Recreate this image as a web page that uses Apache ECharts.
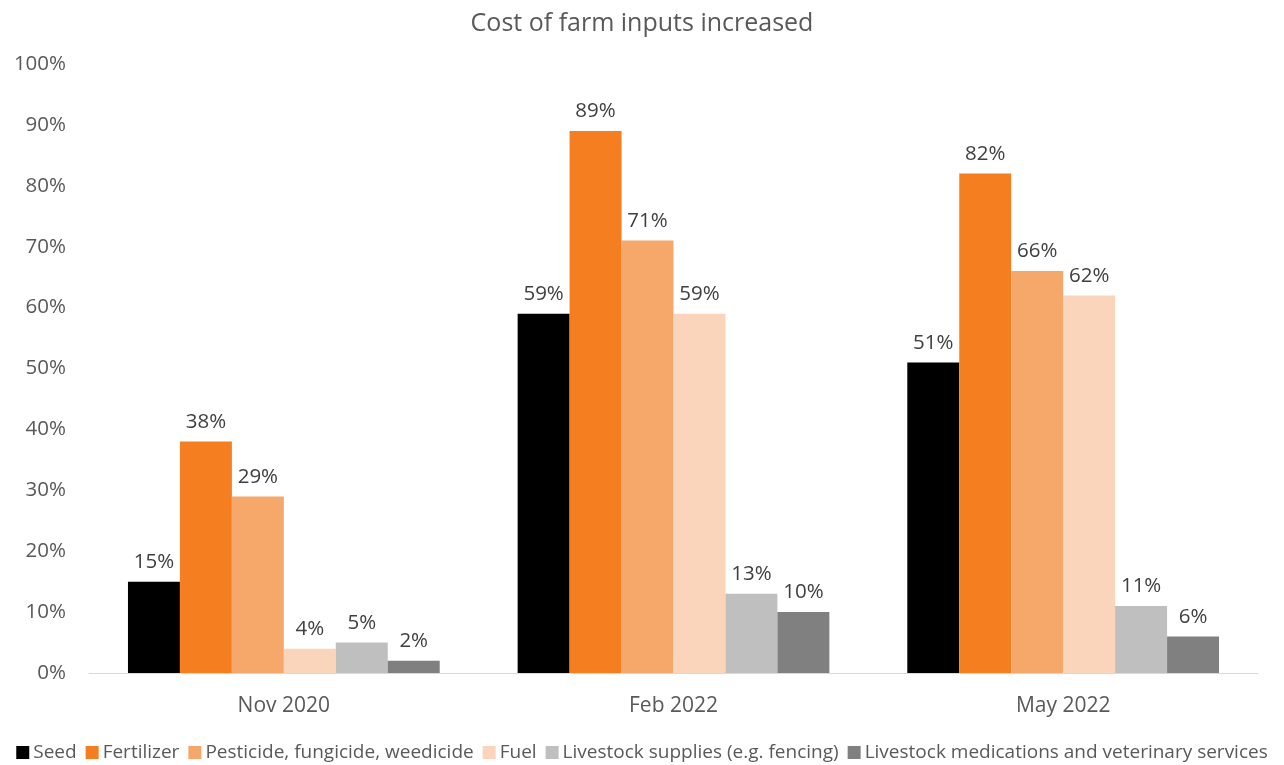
<!DOCTYPE html>
<html>
<head>
<meta charset="utf-8">
<script src="https://cdn.jsdelivr.net/npm/echarts@6/dist/echarts.min.js"></script>
<style>
  html, body { margin: 0; padding: 0; background: #fff; }
  #chart { width: 1284px; height: 765px; }
</style>
</head>
<body>
<div id="chart"></div>
<script>
// Survey periods
const categories = ['Nov 2020', 'Feb 2022', 'May 2022'];

// Share reporting increased cost, in percent
const seed = [15, 59, 51];
const fertilizer = [38, 89, 82];
const pesticide = [29, 71, 66];
const fuel = [4, 59, 62];
const livestockSupplies = [5, 13, 11];
const livestockMedications = [2, 10, 6];

const seriesNames = [
  'Seed',
  'Fertilizer',
  'Pesticide, fungicide, weedicide',
  'Fuel',
  'Livestock supplies (e.g. fencing)',
  'Livestock medications and veterinary services'
];
const seriesValues = [seed, fertilizer, pesticide, fuel, livestockSupplies, livestockMedications];
const colors = ['#000000', '#F47E20', '#F6A76A', '#FAD5BB', '#BFBFBF', '#808080'];

const FONT = 'Open Sans';

const chart = echarts.init(document.getElementById('chart'));
chart.setOption({
  animation: false,
  title: {
    text: 'Cost of farm inputs increased',
    left: 'center',
    top: 6,
    textStyle: { fontFamily: FONT, fontSize: 25, fontWeight: 'normal', color: '#595959' }
  },
  legend: {
    bottom: -2,
    left: 'center',
    itemWidth: 13,
    itemHeight: 13,
    itemGap: 9,
    icon: 'rect',
    textStyle: { fontFamily: FONT, fontSize: 19, color: '#595959', padding: [0, 0, 0, -1] },
    data: seriesNames
  },
  grid: { left: 89, right: 26, top: 64, bottom: 92, containLabel: false },
  xAxis: {
    type: 'category',
    data: categories,
    axisLine: { lineStyle: { color: '#D9D9D9', width: 1 } },
    axisTick: { show: false },
    axisLabel: { fontFamily: FONT, fontSize: 21, color: '#595959', margin: 23 }
  },
  yAxis: {
    type: 'value',
    min: 0,
    max: 100,
    interval: 10,
    axisLine: { show: false },
    axisTick: { show: false },
    splitLine: { show: false },
    axisLabel: { fontFamily: FONT, fontSize: 20.5, color: '#595959', margin: 23, formatter: '{value}%' }
  },
  series: seriesNames.map((name, i) => ({
    name,
    type: 'bar',
    data: seriesValues[i],
    barGap: '0%',
    barCategoryGap: '20%',
    itemStyle: { color: colors[i] },
    label: {
      show: true,
      position: 'top',
      distance: 9,
      formatter: '{c}%',
      fontFamily: FONT,
      fontSize: 20.5,
      color: '#404040'
    }
  }))
});
</script>
</body>
</html>
